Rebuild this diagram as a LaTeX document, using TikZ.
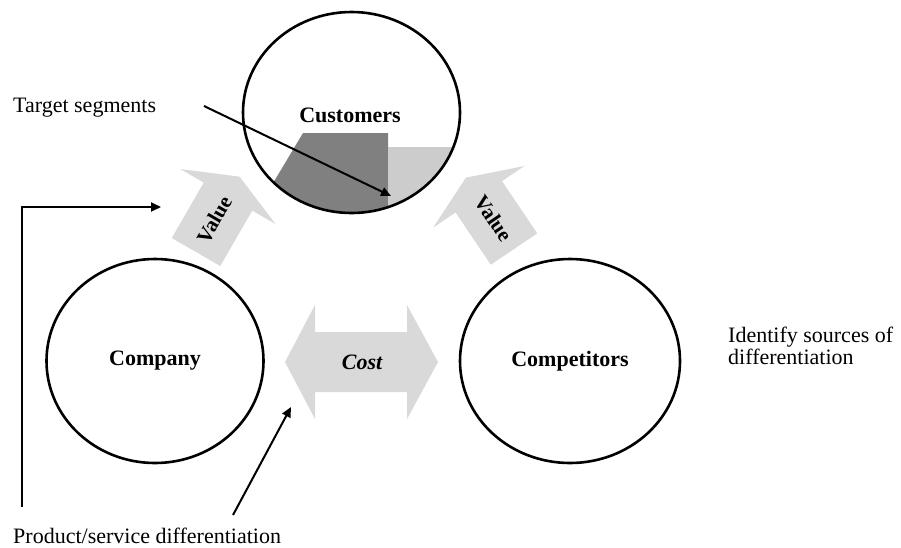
\documentclass[tikz,border=0pt]{standalone}
\usepackage{fontspec}
\setmainfont{Liberation Serif}
\usetikzlibrary{arrows.meta,shapes.geometric}
\begin{document}
\begin{tikzpicture}[x=1pt,y=-1pt,
  ring/.style={draw=black,line width=2.6pt,ellipse,inner sep=0pt,
    font=\fontsize{22}{24}\selectfont\bfseries},
  blockfill/.style={fill=black!15},
  conn/.style={draw=black,line width=2pt,-{Triangle[length=10pt,width=9pt]}},
  label/.style={inner sep=0pt,font=\fontsize{22}{22}\selectfont},
  arrowtext/.style={inner sep=0pt,font=\fontsize{21}{22}\selectfont\bfseries}
]
\useasboundingbox (0,0) rectangle (901,547);
\fill[white] (0,0) rectangle (901,547);

% shaded segments inside Customers
\begin{scope}
  \clip (351.5,112.5) ellipse [x radius=108.5pt, y radius=100.5pt];
  \fill[black!50] (303,133) -- (388,133) -- (388,260) -- (227,260) -- cycle;
  \fill[black!20] (388,147) -- (470,147) -- (470,260) -- (388,260) -- cycle;
\end{scope}

% circles
\node[ring,minimum width=217pt,minimum height=201pt] (cust) at (351.5,112.5) {};
\node[font=\fontsize{22}{24}\selectfont\bfseries,inner sep=0pt] (custl) at (350,115) {Customers};
\node[ring,minimum width=217pt,minimum height=204pt] (comp) at (155,361) {Company};
\node[ring,minimum width=220pt,minimum height=204pt] (compet) at (570,361) {Competitors};

% Value arrows
\begin{scope}[shift={(196,252)},rotate=60]
  \fill[blockfill] (0,-28) -- (64,-28) -- (64,-55) -- (87,0) -- (64,55) -- (64,28) -- (0,28) -- cycle;
  \node[arrowtext,rotate=60] (v1) at (37,0) {Value};
\end{scope}
\begin{scope}[shift={(514,249)},rotate=124]
  \fill[blockfill] (0,-28) -- (63,-28) -- (63,-55) -- (86,0) -- (63,55) -- (63,28) -- (0,28) -- cycle;
  \node[arrowtext,rotate=-56] (v2) at (37,0) {Value};
\end{scope}

% Cost double arrow
\fill[blockfill] (285,362) -- (315,305) -- (315,332) -- (407,332) -- (407,305) -- (438,362)
  -- (407,419) -- (407,392) -- (315,392) -- (315,419) -- cycle;
\node[inner sep=0pt,font=\fontsize{22}{24}\selectfont\bfseries\itshape] (cost) at (362,362) {Cost};

% text labels
\node[label,anchor=base west] (ts) at (13,112) {Target segments};
\node[label,anchor=base west] (ps) at (13,543) {Product/service differentiation};
\node[label,anchor=base west,align=left] (id) at (728,364) {Identify sources of\\differentiation};

% connectors
\coordinate (tsA) at (204,106);
\coordinate (tsB) at (391,196);
\draw[conn] (tsA) -- (tsB);
\coordinate (psA) at (22,507);
\coordinate (psB) at (161,207);
\draw[conn] (psA) |- (psB);
\coordinate (pdA) at (233,515);
\coordinate (pdB) at (291,407);
\draw[conn] (pdA) -- (pdB);
\end{tikzpicture}
\end{document}
